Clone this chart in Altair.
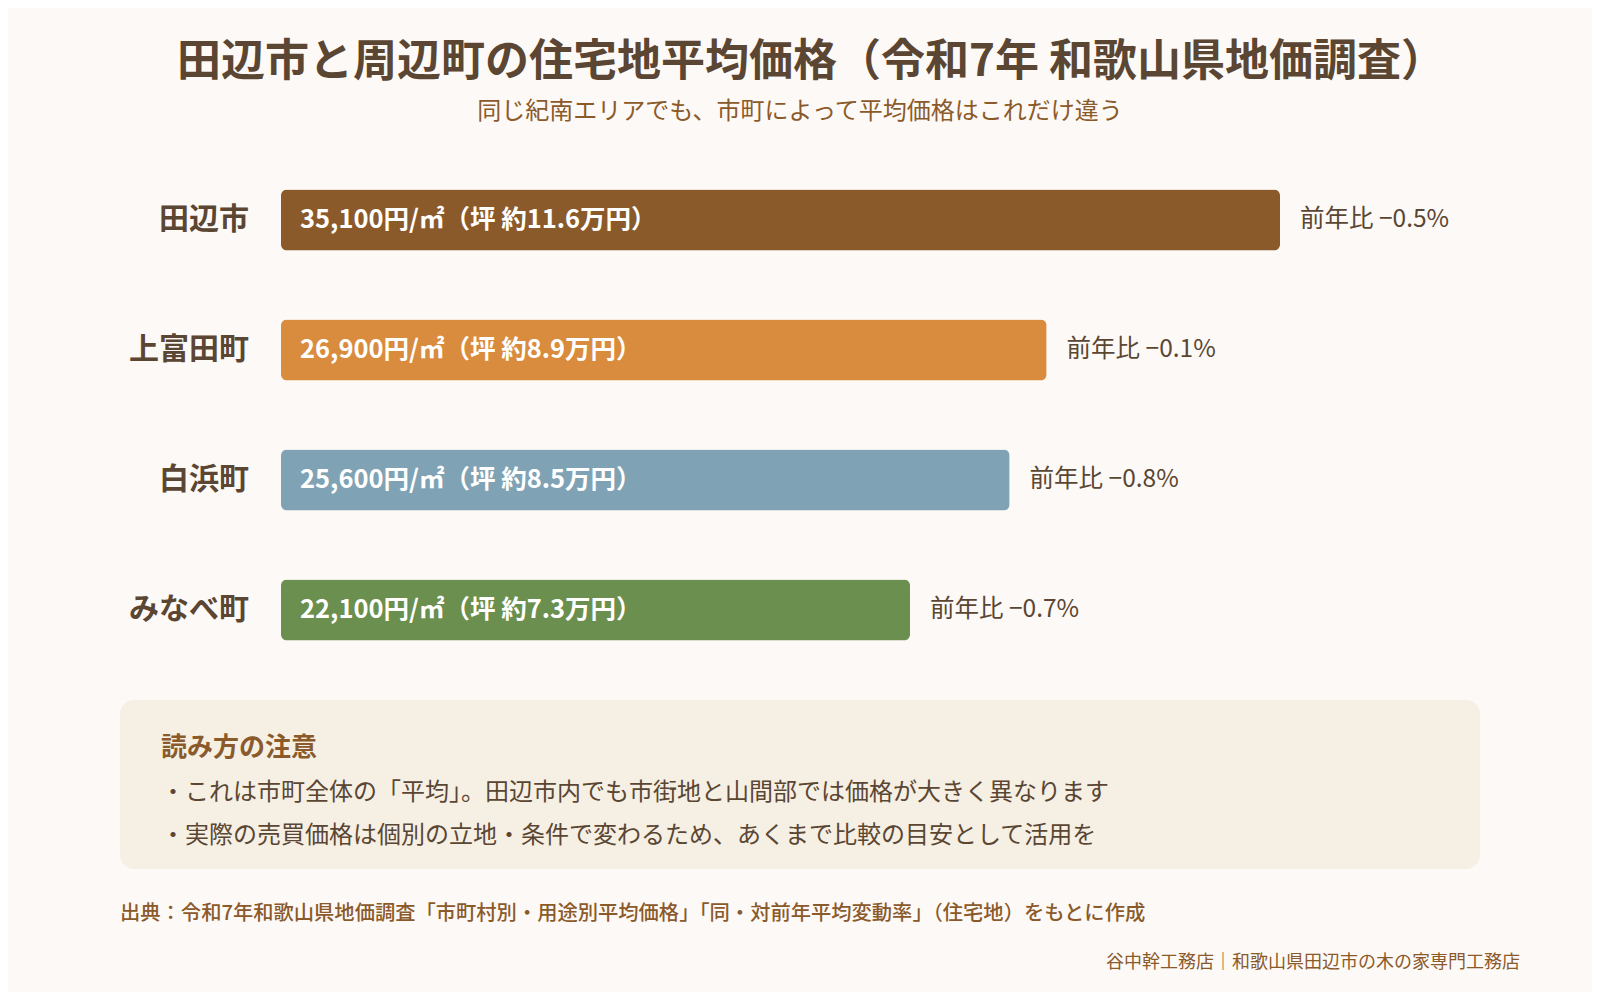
import pandas as pd
import altair as alt

FONT = 'Noto Sans CJK JP'
DARK = '#5a4632'
BROWN = '#8b5a2b'
BG = '#fdf9f6'

## Data
towns = ['田辺市', '上富田町', '白浜町', 'みなべ町']
price_m2 = [35100, 26900, 25600, 22100]        # 円/㎡
price_tsubo = ['11.6', '8.9', '8.5', '7.3']     # 万円/坪
yoy = ['-0.5', '-0.1', '-0.8', '-0.7']          # 前年比 %
bar_colors = ['#8b5a2b', '#d98b3e', '#7fa3b5', '#6a8f4e']

title = '田辺市と周辺町の住宅地平均価格（令和7年 和歌山県地価調査）'
subtitle = '同じ紀南エリアでも、市町によって平均価格はこれだけ違う'
note_head = '読み方の注意'
note_lines = ['・これは市町全体の「平均」。田辺市内でも市街地と山間部では価格が大きく異なります',
              '・実際の売買価格は個別の立地・条件で変わるため、あくまで比較の目安として活用を']
source_text = '出典：令和7年和歌山県地価調査「市町村別・用途別平均価格」「同・対前年平均変動率」（住宅地）をもとに作成'
footer_text = '谷中幹工務店｜和歌山県田辺市の木の家専門工務店'

df = pd.DataFrame({'town': towns, 'price': price_m2, 'tsubo': price_tsubo,
                   'yoy': yoy, 'color': bar_colors})
df['inside'] = df.apply(lambda r: f"{r.price:,}円/㎡（坪 約{r.tsubo}万円）", axis=1)
df['right'] = df.yoy.apply(lambda v: '前年比 ' + v.replace('-', '−') + '%')

x_scale = alt.Scale(domain=[0, 35100], range=[273, 1272])
y_scale = alt.Scale(domain=towns, range=[147, 667], paddingInner=0.53, paddingOuter=0.265)
y_enc = alt.Y('town:N', scale=y_scale, axis=None)

base = alt.Chart(df)

bars = base.mark_bar(cornerRadius=6).encode(
    x=alt.X('price:Q', scale=x_scale, axis=None),
    x2=alt.value(273),
    y=y_enc,
    color=alt.Color('color:N', scale=None),
)

inside = base.mark_text(align='left', baseline='middle', font=FONT, fontSize=25.5,
                        fontWeight='bold', color='white').encode(
    x=alt.value(292), y=y_enc, text='inside:N')

right = base.mark_text(align='left', baseline='middle', font=FONT, fontSize=24.5,
                       color=DARK, dx=20).encode(
    x=alt.X('price:Q', scale=x_scale), y=y_enc, text='right:N')

names = base.mark_text(align='right', baseline='middle', font=FONT, fontSize=30,
                       fontWeight='bold', color=DARK).encode(
    x=alt.value(241), y=y_enc, text='town:N')


def label(text, x, y, size, color, weight='normal', align='left'):
    return alt.Chart(pd.DataFrame({'t': [text]})).mark_text(
        align=align, baseline='middle', font=FONT, fontSize=size,
        fontWeight=weight, color=color
    ).encode(x=alt.value(x), y=alt.value(y), text='t:N')


note_box = alt.Chart(pd.DataFrame({'a': [0]})).mark_rect(
    color='#f5efe4', cornerRadius=14
).encode(x=alt.value(112), x2=alt.value(1472), y=alt.value(692), y2=alt.value(861))

layers = [
    label(title, 803, 55, 44, DARK, 'bold', 'center'),
    label(subtitle, 792, 104, 24, BROWN, 'normal', 'center'),
    bars, inside, right, names,
    note_box,
    label(note_head, 153, 740, 26, BROWN, 'bold'),
    label(note_lines[0], 153, 785, 24, DARK),
    label(note_lines[1], 153, 828, 24, DARK),
    label(source_text, 112, 906, 20.3, BROWN, 500),
    label(footer_text, 1512, 955, 18, BROWN, 'normal', 'right'),
]

chart = alt.layer(*layers).properties(
    width=1584, height=984, padding=0, autosize='none', background=BG
).configure_view(stroke=None)

chart.save("out.html", embed_options={"renderer": "svg", "actions": False})
